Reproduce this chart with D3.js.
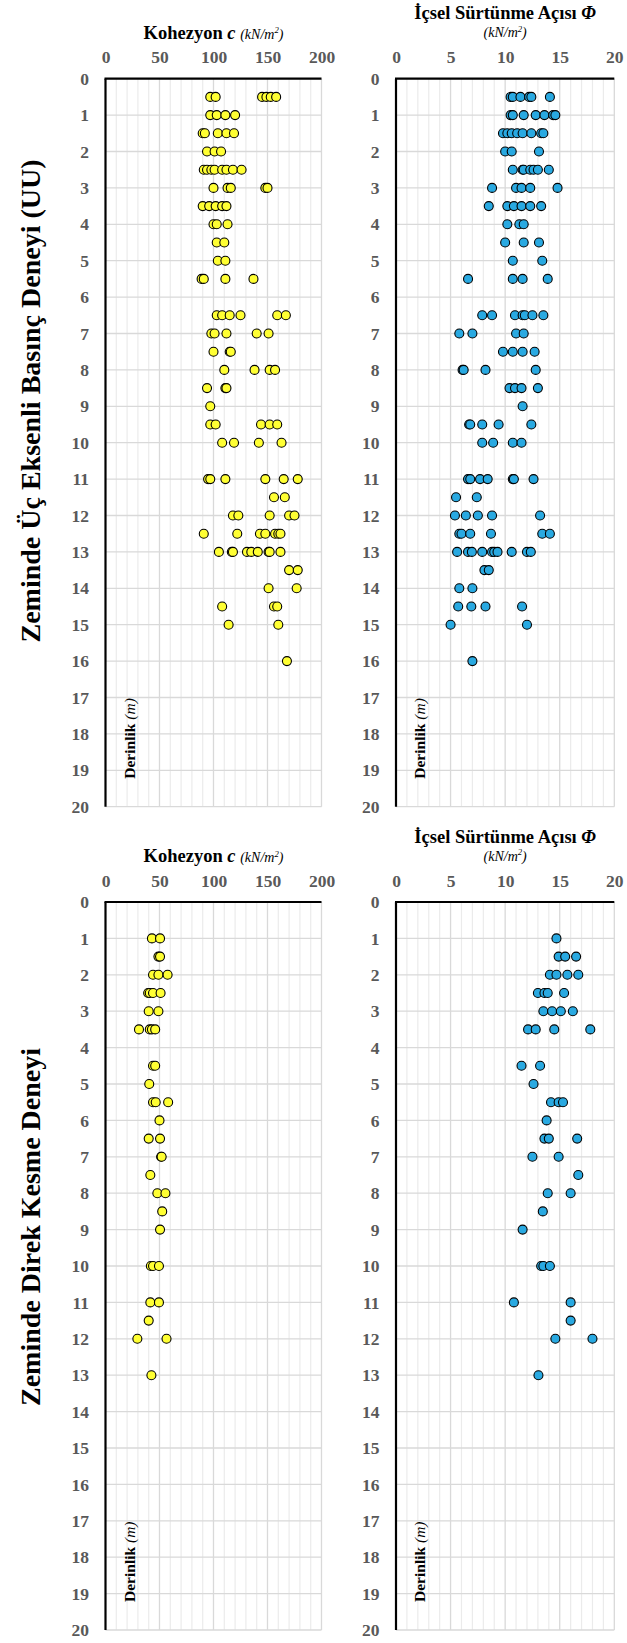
<!DOCTYPE html>
<html><head><meta charset="utf-8">
<script src="https://cdn.jsdelivr.net/npm/d3@7"></script>
<style>
body{margin:0;background:#fff}
svg{display:block}
text{font-family:"Liberation Serif","Times New Roman",serif}
</style>
</head><body>
<svg id="chart" width="627" height="1643"></svg>
<script>
// ---------- DATA ----------
const depthTicks = d3.range(0, 21);
const cohesionTicks = [0, 50, 100, 150, 200];
const phiTicks = [0, 5, 10, 15, 20];
const rowTitles = ["Zeminde Üç Eksenli Basınç Deneyi (UU)", "Zeminde Direk Kesme Deneyi"];

// UU test – cohesion c (kN/m²) by depth (m)
const uuCohesion = [
  [0.5, [97, 102, 145, 149, 153, 158]],
  [1, [97, 103, 111, 120]],
  [1.5, [90, 92, 104, 112, 119]],
  [2, [94, 101, 107]],
  [2.5, [91, 94, 98, 101, 108, 112, 118, 126]],
  [3, [100, 113, 116, 148, 150]],
  [3.5, [90, 96, 102, 108, 112]],
  [4, [100, 103, 113]],
  [4.5, [103, 110]],
  [5, [104, 111]],
  [5.5, [89, 91, 111, 137]],
  [6.5, [103, 108, 115, 125, 159, 167]],
  [7, [98, 101, 112, 140, 151]],
  [7.5, [100, 115, 116]],
  [8, [110, 138, 152, 157]],
  [8.5, [94, 111, 112]],
  [9, [97]],
  [9.5, [97, 102, 144, 152, 159]],
  [10, [108, 119, 142, 163]],
  [11, [95, 97, 111, 148, 165, 178]],
  [11.5, [156, 166]],
  [12, [118, 123, 152, 170, 175]],
  [12.5, [91, 122, 143, 148, 157, 160, 162]],
  [13, [105, 117, 118, 131, 135, 141, 151, 152, 162]],
  [13.5, [170, 178]],
  [14, [151, 177]],
  [14.5, [108, 156, 159]],
  [15, [114, 160]],
  [16, [168]]
];

// UU test – internal friction angle Φ by depth (m)
const uuPhi = [
  [0.5, [10.5, 10.7, 11.4, 12.2, 12.4, 14.1]],
  [1, [10.5, 10.7, 11.7, 12.8, 13.6, 14.4, 14.6]],
  [1.5, [9.8, 10.2, 10.6, 11.1, 11.6, 12.4, 13.3, 13.5]],
  [2, [10.0, 10.6, 13.1]],
  [2.5, [10.7, 11.6, 11.7, 12.3, 12.6, 13.0, 14.0]],
  [3, [8.8, 11.0, 11.5, 12.3, 14.8]],
  [3.5, [8.5, 10.2, 10.8, 11.5, 12.3, 13.3]],
  [4, [10.2, 11.3, 11.7]],
  [4.5, [10.0, 11.7, 13.1]],
  [5, [10.7, 13.4]],
  [5.5, [6.6, 10.7, 11.6, 13.9]],
  [6.5, [7.9, 8.8, 10.9, 11.6, 11.8, 12.5, 13.5]],
  [7, [5.8, 7.0, 11.0, 11.7]],
  [7.5, [9.8, 10.7, 11.6, 12.7]],
  [8, [6.1, 6.2, 8.2, 12.8]],
  [8.5, [10.4, 10.9, 11.5, 13.0]],
  [9, [11.6]],
  [9.5, [6.7, 6.8, 7.9, 9.4, 12.4]],
  [10, [7.9, 8.9, 10.7, 11.5]],
  [11, [6.6, 6.8, 7.7, 8.4, 10.7, 10.8, 12.6]],
  [11.5, [5.5, 7.4]],
  [12, [5.4, 6.4, 7.5, 8.8, 13.2]],
  [12.5, [5.8, 6.0, 6.8, 8.7, 13.4, 14.1]],
  [13, [5.6, 6.6, 6.95, 7.9, 8.8, 9.0, 9.3, 10.6, 12.0, 12.35]],
  [13.5, [8.1, 8.5]],
  [14, [5.8, 7.0]],
  [14.5, [5.7, 6.9, 8.2, 11.55]],
  [15, [5.0, 12.0]],
  [16, [7.0]]
];

// Direct shear – cohesion c by depth (m)
const dsCohesion = [
  [1, [43, 50.5]],
  [1.5, [49, 50.5]],
  [2, [44, 49, 57.5]],
  [2.5, [39.5, 41, 44, 51]],
  [3, [40, 49]],
  [3.5, [31, 41, 43, 46]],
  [4.5, [44, 46]],
  [5, [40.5]],
  [5.5, [44, 46.5, 58]],
  [6, [50]],
  [6.5, [40, 50.5]],
  [7, [51.5, 52]],
  [7.5, [41.5]],
  [8, [48, 55.5]],
  [8.5, [52.5]],
  [9, [50.5]],
  [10, [42, 44, 49.5]],
  [11, [41.5, 49.5]],
  [11.5, [40]],
  [12, [29.5, 56.5]],
  [13, [42.5]]
];

// Direct shear – Φ by depth (m)
const dsPhi = [
  [1, [14.7]],
  [1.5, [14.9, 15.5, 16.5]],
  [2, [14.1, 14.7, 15.7, 16.7]],
  [2.5, [13.0, 13.6, 13.9, 15.4]],
  [3, [13.5, 14.3, 15.1, 16.2]],
  [3.5, [12.1, 12.8, 14.5, 17.8]],
  [4.5, [11.5, 13.2]],
  [5, [12.6]],
  [5.5, [14.2, 14.9, 15.3]],
  [6, [13.8]],
  [6.5, [13.6, 14.0, 16.6]],
  [7, [12.5, 14.9]],
  [7.5, [16.7]],
  [8, [13.9, 16.0]],
  [8.5, [13.45]],
  [9, [11.6]],
  [10, [13.3, 13.5, 14.1]],
  [11, [10.8, 16.0]],
  [11.5, [16.0]],
  [12, [14.6, 18.0]],
  [13, [13.05]]
];

// ---------- DRAW ----------
const svg = d3.select("#chart");
svg.append("rect").attr("width", 627).attr("height", 1643).attr("fill", "#fff");

const YELLOW = "#ffff33", BLUE = "#29a9e1";
const panels = [
  {rows: uuCohesion, ticks: cohesionTicks, minor: 10, left: 105.5, right: 321.5, top: 78.7, fill: YELLOW, kind: "c"},
  {rows: uuPhi, ticks: phiTicks, minor: 1, left: 396, right: 614.3, top: 78.7, fill: BLUE, kind: "phi"},
  {rows: dsCohesion, ticks: cohesionTicks, minor: 10, left: 105.5, right: 321.5, top: 902, fill: YELLOW, kind: "c"},
  {rows: dsPhi, ticks: phiTicks, minor: 1, left: 396, right: 614.3, top: 902, fill: BLUE, kind: "phi"}
];
const plotH = 728;

function unitText(sel, size) {
  sel.append("tspan").attr("font-style", "italic").attr("font-weight", "normal")
    .attr("font-size", size).text("(kN/m");
  sel.append("tspan").attr("font-style", "italic").attr("font-weight", "normal")
    .attr("font-size", size * 0.62).attr("dy", -size * 0.38).text("2");
  sel.append("tspan").attr("font-style", "italic").attr("font-weight", "normal")
    .attr("font-size", size).attr("dy", size * 0.38).text(")");
}

panels.forEach(p => {
  const dom = d3.extent(p.ticks);
  const x = d3.scaleLinear().domain(dom).range([p.left, p.right]);
  const y = d3.scaleLinear().domain([0, 20]).range([p.top, p.top + plotH]);
  const g = svg.append("g");

  // minor vertical grid
  const major = p.ticks[1] - p.ticks[0];
  const minorVals = d3.range(dom[0], dom[1] + 1e-9, p.minor)
    .filter(v => Math.abs(v / major - Math.round(v / major)) > 1e-6);
  g.selectAll(".mv").data(minorVals).join("line")
    .attr("x1", d => x(d)).attr("x2", d => x(d))
    .attr("y1", y(0)).attr("y2", y(20))
    .attr("stroke", "#ebebeb").attr("stroke-width", 1.2);
  // horizontal grid
  g.selectAll(".hg").data(depthTicks.slice(1)).join("line")
    .attr("x1", x(dom[0])).attr("x2", x(dom[1]))
    .attr("y1", d => y(d)).attr("y2", d => y(d))
    .attr("stroke", "#d9d9d9").attr("stroke-width", 1.3);
  // major vertical grid
  g.selectAll(".Mv").data(p.ticks.slice(1)).join("line")
    .attr("x1", d => x(d)).attr("x2", d => x(d))
    .attr("y1", y(0)).attr("y2", y(20))
    .attr("stroke", "#d9d9d9").attr("stroke-width", 1.3);

  // axes
  const xa = g.append("g").attr("transform", `translate(0,${y(0)})`)
    .call(d3.axisTop(x).tickValues(p.ticks).tickSize(0).tickPadding(15.5));
  const ya = g.append("g").attr("transform", `translate(${x(dom[0])},0)`)
    .call(d3.axisLeft(y).tickValues(depthTicks).tickSize(0).tickPadding(16.5));
  [xa, ya].forEach(a => {
    a.select(".domain").remove();
    a.selectAll("text").attr("font-family", "'Liberation Serif',serif")
      .attr("font-weight", "bold").attr("font-size", 17.5).attr("fill", "#595959");
  });
  g.append("line").attr("x1", x(dom[0]) - 1).attr("x2", x(dom[1]))
    .attr("y1", y(0)).attr("y2", y(0)).attr("stroke", "#000").attr("stroke-width", 2.2);
  g.append("line").attr("x1", x(dom[0])).attr("x2", x(dom[0]))
    .attr("y1", y(0)).attr("y2", y(20)).attr("stroke", "#000").attr("stroke-width", 2.2);

  // titles
  const cx = (p.left + p.right) / 2;
  if (p.kind === "c") {
    const t = g.append("text").attr("x", cx).attr("y", p.top - 40)
      .attr("text-anchor", "middle").attr("font-weight", "bold").attr("font-size", 18.5).attr("fill", "#000");
    t.append("tspan").text("Kohezyon ");
    t.append("tspan").attr("font-style", "italic").text("c ");
    unitText(t, 14);
  } else {
    const t = g.append("text").attr("x", cx).attr("y", p.top - 59.5)
      .attr("text-anchor", "middle").attr("font-weight", "bold").attr("font-size", 18.5).attr("fill", "#000");
    t.append("tspan").text("İçsel Sürtünme Açısı ");
    t.append("tspan").attr("font-style", "italic").text("Φ");
    const u = g.append("text").attr("x", cx).attr("y", p.top - 41.5)
      .attr("text-anchor", "middle").attr("fill", "#000");
    unitText(u, 14);
  }

  // depth label
  const dl = g.append("text")
    .attr("transform", `translate(${x(dom[0]) + 29},${p.top + 700}) rotate(-90)`)
    .attr("font-weight", "bold").attr("font-size", 15.5).attr("fill", "#000");
  dl.append("tspan").text("Derinlik  ");
  dl.append("tspan").attr("font-style", "italic").attr("font-weight", "normal").text("(m)");

  // points
  const pts = p.rows.flatMap(([d, vals]) => vals.map(v => ({d, v})));
  g.selectAll("circle").data(pts).join("circle")
    .attr("cx", o => x(o.v)).attr("cy", o => y(o.d)).attr("r", 4.5)
    .attr("fill", p.fill).attr("stroke", "#000").attr("stroke-width", 1.1);
});

// row titles
[[401, rowTitles[0]], [1227, rowTitles[1]]].forEach(([cy, txt]) => {
  svg.append("text").attr("transform", `translate(40,${cy}) rotate(-90)`)
    .attr("text-anchor", "middle").attr("font-weight", "bold").attr("font-size", 28)
    .attr("fill", "#000").text(txt);
});
</script>
</body></html>
